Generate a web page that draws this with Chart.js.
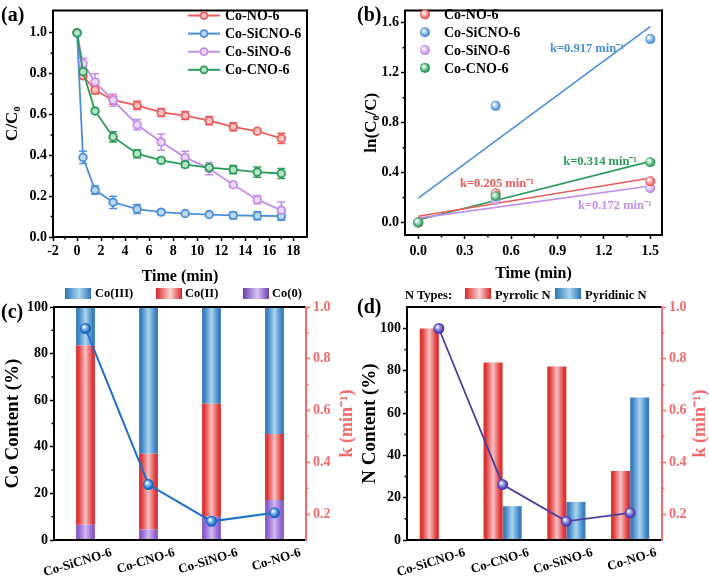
<!DOCTYPE html>
<html>
<head>
<meta charset="utf-8">
<script src="https://cdn.jsdelivr.net/npm/chart.js@4.4.1/dist/chart.umd.min.js"></script>
<style>
  body { margin: 0; background: #fff; width: 709px; height: 583px; position: relative; overflow: hidden;
         font-family: "Liberation Serif", "Times New Roman", serif; font-weight: bold; }
  canvas { position: absolute; }
  .plabel { position: absolute; font-size: 20px; font-weight: bold; line-height: 1; }
  .leg { position: absolute; font-size: 12.5px; font-weight: bold; line-height: 1; white-space: nowrap; }
  .sw { position: absolute; width: 26px; height: 11px; }
</style>
</head>
<body>
<canvas id="ca" width="355" height="286" style="left:0;top:0"></canvas>
<canvas id="cb" width="354" height="286" style="left:355px;top:0"></canvas>
<canvas id="cc" width="358" height="297" style="left:0;top:286px"></canvas>
<canvas id="cd" width="354" height="297" style="left:355px;top:286px"></canvas>

<div class="plabel" style="left:1px;top:4px">(a)</div>
<div class="plabel" style="left:357px;top:4px">(b)</div>
<div class="plabel" style="left:1px;top:301px">(c)</div>
<div class="plabel" style="left:357px;top:296px">(d)</div>

<!-- legend (c) -->
<div class="sw" style="left:65px;top:288px;background:linear-gradient(to right,#2f74b5,#a9d6f3 55%,#2f74b5)"></div>
<div class="leg" style="left:95px;top:287px">Co(III)</div>
<div class="sw" style="left:156px;top:288px;background:linear-gradient(to right,#d9262b,#fbd3d3 55%,#d9262b)"></div>
<div class="leg" style="left:185px;top:287px">Co(II)</div>
<div class="sw" style="left:243px;top:288px;background:linear-gradient(to right,#6b3eae,#d9c6f5 55%,#6b3eae)"></div>
<div class="leg" style="left:272px;top:287px">Co(0)</div>
<!-- legend (d) -->
<div class="leg" style="left:405px;top:289px">N Types:</div>
<div class="sw" style="left:465px;top:288px;background:linear-gradient(to right,#d9262b,#fbd3d3 55%,#d9262b)"></div>
<div class="leg" style="left:495px;top:289px">Pyrrolic N</div>
<div class="sw" style="left:555px;top:288px;background:linear-gradient(to right,#2f74b5,#a9d6f3 55%,#2f74b5)"></div>
<div class="leg" style="left:585px;top:289px">Pyridinic N</div>

<script>
// ---- data (a) ----
const seriesNames = ['Co-NO-6', 'Co-SiCNO-6', 'Co-SiNO-6', 'Co-CNO-6'];
const times = [0, 0.5, 1.5, 3, 5, 7, 9, 11, 13, 15, 17];
const noVals     = [1.0, 0.79, 0.72, 0.67, 0.645, 0.61, 0.595, 0.57, 0.54, 0.518, 0.483];
const sicnoVals  = [1.0, 0.39, 0.23, 0.17, 0.137, 0.122, 0.115, 0.11, 0.106, 0.104, 0.102];
const sinoVals   = [1.0, 0.85, 0.76, 0.67, 0.55, 0.465, 0.39, 0.335, 0.256, 0.183, 0.132];
const cnoVals    = [1.0, 0.81, 0.617, 0.49, 0.408, 0.375, 0.355, 0.34, 0.33, 0.318, 0.311];
const noErr      = [0, 0.015, 0.02, 0.02, 0.02, 0.02, 0.02, 0.02, 0.02, 0.01, 0.025];
const sicnoErr   = [0, 0.03, 0.02, 0.03, 0.022, 0.012, 0.008, 0.008, 0.016, 0.02, 0.02];
const sinoErr    = [0, 0.025, 0.04, 0.03, 0.025, 0.04, 0.03, 0.03, 0.012, 0.02, 0.04];
const cnoErr     = [0, 0.025, 0.01, 0.025, 0.02, 0.012, 0.015, 0.015, 0.02, 0.025, 0.025];
const aXTicks = [-2, 0, 2, 4, 6, 8, 10, 12, 14, 16, 18];
const aXMinor = [-1, 1, 3, 5, 7, 9, 11, 13, 15, 17];
const aYTicks = [0, 0.2, 0.4, 0.6, 0.8, 1.0];
const aYMinor = [0.1, 0.3, 0.5, 0.7, 0.9];

// ---- data (b) ----
const fitTimes = [0, 0.5, 1.5];
const noLn    = [0, 0.235, 0.33];
const sicnoLn = [0, 0.935, 1.47];
const sinoLn  = [0, 0.18, 0.275];
const cnoLn   = [0, 0.21, 0.483];
const fitEnds = [0, 1.5];
const noFit    = [0.05, 0.357];
const sicnoFit = [0.195, 1.57];
const sinoFit  = [0.035, 0.293];
const cnoFit   = [0.02, 0.49];
const kTexts = ['k=0.205 min\u207B\u00B9', 'k=0.917 min\u207B\u00B9', 'k=0.172 min\u207B\u00B9', 'k=0.314 min\u207B\u00B9'];
const bXTicks = [0, 0.3, 0.6, 0.9, 1.2, 1.5];
const bXMinor = [0.15, 0.45, 0.75, 1.05, 1.35];
const bYTicks = [0, 0.4, 0.8, 1.2, 1.6];
const bYMinor = [0.2, 0.6, 1.0, 1.4];

// ---- data (c), (d) ----
const samples = ['Co-SiCNO-6', 'Co-CNO-6', 'Co-SiNO-6', 'Co-NO-6'];
const kVals = [0.917, 0.314, 0.172, 0.205];
const co0 = [6.5, 4.5, 10, 17.2];
const co2 = [77, 32.5, 48.5, 28.3];
const co3 = [16.5, 63, 41.5, 54.5];
const pyrrolic = [100, 84, 82, 32.6];
const pyridinic = [0, 16, 18, 67.4];
const cYTicks = [0, 20, 40, 60, 80, 100];
const cYMinor = [10, 30, 50, 70, 90];
const dYTicks = [0, 20, 40, 60, 80, 100];
const dYMinor = [10, 30, 50, 70, 90];
const kTicks = [0.2, 0.4, 0.6, 0.8, 1.0];
const kMinor = [0.3, 0.5, 0.7, 0.9];

const RED = '#ee5b5b', BLUE = '#4a8fdb', PURPLE = '#c28fec', GREEN = '#2b9c5a';
const colors = [RED, BLUE, PURPLE, GREEN];
const lights = ['#fbc4c2', '#bcd8f6', '#ecd7fb', '#b6e2c6'];
const KRED = '#f26a6a';

Chart.defaults.font.family = '"Liberation Serif", "Times New Roman", serif';
Chart.defaults.font.weight = 'bold';
Chart.defaults.font.size = 14;
Chart.defaults.color = '#000';
Chart.defaults.animation = false;
Chart.defaults.events = [];
Chart.defaults.plugins.legend.display = false;
Chart.defaults.plugins.tooltip.enabled = false;

// ---- helpers ----
function sphere(base, light, yId) {
  return ctx => {
    if (ctx.type !== 'data') return base;
    const chart = ctx.chart, x = chart.scales.x, y = chart.scales[yId];
    if (!x || !y) return base;
    const r = ctx.raw;
    const px = typeof r === 'object' ? x.getPixelForValue(r.x) : x.getPixelForValue(ctx.dataIndex);
    const py = y.getPixelForValue(typeof r === 'object' ? r.y : r);
    if (!isFinite(px) || !isFinite(py)) return base;
    const g = chart.ctx.createRadialGradient(px - 1.6, py - 1.8, 0.3, px, py, 6);
    g.addColorStop(0, '#ffffff');
    g.addColorStop(0.3, light);
    g.addColorStop(0.75, base);
    g.addColorStop(1, base);
    return g;
  };
}

function barFill(edge, mid, frac, shift) {
  return ctx => {
    if (ctx.type !== 'data') return edge;
    const chart = ctx.chart, x = chart.scales.x;
    if (!x) return edge;
    const catW = (x.right - x.left) / chart.data.labels.length;
    const w = catW * frac;
    const cx = x.getPixelForValue(ctx.dataIndex) + shift * catW;
    if (!isFinite(cx) || !isFinite(w) || w <= 0) return edge;
    const g = chart.ctx.createLinearGradient(cx - w / 2, 0, cx + w / 2, 0);
    g.addColorStop(0, edge);
    g.addColorStop(0.12, edge);
    g.addColorStop(0.5, mid);
    g.addColorStop(0.88, edge);
    g.addColorStop(1, edge);
    return g;
  };
}

const frame = {
  id: 'frame',
  afterDatasetsDraw(chart, args, o) {
    const { left, right, top, bottom } = chart.chartArea;
    const ctx = chart.ctx;
    ctx.save();
    ctx.lineWidth = 2;
    const seg = (c, x1, y1, x2, y2) => {
      ctx.strokeStyle = c; ctx.beginPath(); ctx.moveTo(x1, y1); ctx.lineTo(x2, y2); ctx.stroke();
    };
    seg('#000', left - 1, top, right + 1, top);
    seg('#000', left - 1, bottom, right + 1, bottom);
    seg('#000', left, top, left, bottom);
    seg(o.right || '#000', right, top - 1, right, bottom + 1);
    ctx.restore();
  }
};

const minorTicks = {
  id: 'minorTicks',
  afterDraw(chart, args, o) {
    const ctx = chart.ctx;
    (o.axes || []).forEach(a => {
      const s = chart.scales[a.id];
      ctx.save();
      ctx.strokeStyle = a.color || '#000';
      ctx.lineWidth = 1.5;
      ctx.beginPath();
      a.values.forEach(v => {
        const p = s.getPixelForValue(v);
        if (s.isHorizontal()) { ctx.moveTo(p, s.top); ctx.lineTo(p, s.top + 2.5); }
        else if (s.position === 'left') { ctx.moveTo(s.right, p); ctx.lineTo(s.right - 2.5, p); }
        else { ctx.moveTo(s.left, p); ctx.lineTo(s.left + 2.5, p); }
      });
      ctx.stroke();
      ctx.restore();
    });
  }
};

const errorBars = {
  id: 'errorBars',
  beforeDatasetsDraw(chart) {
    const { ctx, scales: { x, y } } = chart;
    chart.data.datasets.forEach(ds => {
      if (!ds.errors) return;
      ctx.save();
      ctx.strokeStyle = ds.borderColor;
      ctx.lineWidth = 1.5;
      ctx.beginPath();
      ds.data.forEach((p, j) => {
        const e = ds.errors[j];
        if (!e) return;
        const px = x.getPixelForValue(p.x);
        const t = y.getPixelForValue(p.y + e), b = y.getPixelForValue(p.y - e);
        ctx.moveTo(px, t); ctx.lineTo(px, b);
        ctx.moveTo(px - 4, t); ctx.lineTo(px + 4, t);
        ctx.moveTo(px - 4, b); ctx.lineTo(px + 4, b);
      });
      ctx.stroke();
      ctx.restore();
    });
  }
};

const inLegend = {
  id: 'inLegend',
  afterDraw(chart, args, o) {
    const ctx = chart.ctx;
    ctx.save();
    ctx.font = 'bold 14px "Liberation Serif", serif';
    ctx.textBaseline = 'middle';
    ctx.fillStyle = '#000';
    seriesNames.forEach((name, i) => {
      const y = o.y + i * o.dy;
      if (o.line) {
        ctx.strokeStyle = colors[i]; ctx.lineWidth = 2;
        ctx.beginPath(); ctx.moveTo(o.x - 16, y); ctx.lineTo(o.x + 16, y); ctx.stroke();
        ctx.beginPath(); ctx.arc(o.x, y, 3.5, 0, Math.PI * 2);
        ctx.fillStyle = lights[i]; ctx.fill(); ctx.lineWidth = 1.8; ctx.stroke();
      } else {
        const g = ctx.createRadialGradient(o.x - 1.5, y - 1.8, 0.3, o.x, y, 5.5);
        g.addColorStop(0, '#fff'); g.addColorStop(0.3, lights[i]); g.addColorStop(0.75, colors[i]); g.addColorStop(1, colors[i]);
        ctx.beginPath(); ctx.arc(o.x, y, 5, 0, Math.PI * 2); ctx.fillStyle = g; ctx.fill();
      }
      ctx.fillStyle = '#000';
      ctx.fillText(name, o.tx, y + 1);
    });
    ctx.restore();
  }
};

const kLabels = {
  id: 'kLabels',
  afterDatasetsDraw(chart, args, o) {
    const ctx = chart.ctx, x = chart.scales.x, y = chart.scales.y;
    ctx.save();
    ctx.font = 'bold 12.5px "Liberation Serif", serif';
    ctx.textBaseline = 'middle';
    o.items.forEach(it => {
      ctx.fillStyle = it.color;
      ctx.fillText(it.text, x.getPixelForValue(it.x), y.getPixelForValue(it.y));
    });
    ctx.restore();
  }
};

const rightTitle = {
  id: 'rightTitle',
  afterDraw(chart, args, o) {
    const ctx = chart.ctx, ca = chart.chartArea;
    ctx.save();
    ctx.translate(ca.right + o.offset, (ca.top + ca.bottom) / 2);
    ctx.rotate(-Math.PI / 2);
    ctx.font = 'bold 18px "Liberation Serif", serif';
    ctx.fillStyle = o.color;
    ctx.textAlign = 'center';
    ctx.textBaseline = 'middle';
    ctx.fillText(o.text, 0, 0);
    ctx.restore();
  }
};

function setTicks(list) { return s => { s.ticks = list.map(v => ({ value: v })); }; }
const tickGrid = c => ({ drawOnChartArea: false, tickLength: 4, tickColor: c, tickWidth: 1.5 });

// ---- (a) ----
const aSeries = [noVals, sicnoVals, sinoVals, cnoVals];
const aErrs = [noErr, sicnoErr, sinoErr, cnoErr];
new Chart(document.getElementById('ca'), {
  type: 'line',
  data: {
    datasets: aSeries.map((vals, i) => ({
      label: seriesNames[i],
      data: times.map((t, j) => ({ x: t, y: vals[j] })),
      errors: aErrs[i],
      borderColor: colors[i],
      borderWidth: 1.8,
      pointRadius: 3.8,
      pointBorderWidth: 1.8,
      pointBackgroundColor: lights[i],
      pointBorderColor: colors[i],
      tension: 0
    })).reverse()
  },
  options: {
    responsive: false,
    layout: { padding: { left: 0, top: 1, right: 48, bottom: 0 } },
    scales: {
      x: {
        type: 'linear', min: -2, max: 19.14,
        afterBuildTicks: setTicks(aXTicks),
        afterFit: s => { s.height = 49; },
        ticks: { padding: 2, callback: v => v },
        grid: tickGrid('#000'), border: { display: false },
        title: { display: true, text: 'Time (min)', font: { size: 16 }, padding: 0 }
      },
      y: {
        min: 0, max: 1.11,
        afterBuildTicks: setTicks(aYTicks),
        afterFit: s => { s.width = 53; },
        ticks: { padding: 2, callback: v => v.toFixed(1) },
        grid: tickGrid('#000'), border: { display: false },
        title: { display: true, text: 'C/C\u2080', font: { size: 17 }, padding: 2 }
      }
    },
    plugins: {
      inLegend: { x: 204, tx: 225, y: 15.5, dy: 18.1, line: true },
      minorTicks: { axes: [{ id: 'x', values: aXMinor }, { id: 'y', values: aYMinor }] }
    }
  },
  plugins: [errorBars, frame, minorTicks, inLegend]
});

// ---- (b) ----
const bPts = [noLn, sicnoLn, sinoLn, cnoLn];
const bFits = [noFit, sicnoFit, sinoFit, cnoFit];
const bOrder = [2, 3, 4, 0];
const bDatasets = [];
bPts.forEach((vals, i) => {
  bDatasets.push({
    type: 'scatter',
    label: seriesNames[i],
    data: fitTimes.map((t, j) => ({ x: t, y: vals[j] })),
    pointRadius: 5,
    pointBorderWidth: 0,
    pointBackgroundColor: sphere(colors[i], lights[i], 'y'),
    order: bOrder[i]
  });
  bDatasets.push({
    type: 'line',
    label: seriesNames[i] + ' fit',
    data: fitEnds.map((t, j) => ({ x: t, y: bFits[i][j] })),
    borderColor: colors[i],
    borderWidth: 1.6,
    pointRadius: 0,
    order: 10 + i
  });
});
new Chart(document.getElementById('cb'), {
  type: 'scatter',
  data: { datasets: bDatasets },
  options: {
    responsive: false,
    layout: { padding: { left: 0, top: 2, right: 47, bottom: 0 } },
    scales: {
      x: {
        type: 'linear', min: -0.086, max: 1.576,
        afterBuildTicks: setTicks(bXTicks),
        afterFit: s => { s.height = 51; },
        ticks: { padding: 4, callback: v => v.toFixed(1) },
        grid: tickGrid('#000'), border: { display: false },
        title: { display: true, text: 'Time (min)', font: { size: 16 }, padding: 3 }
      },
      y: {
        min: -0.1, max: 1.7,
        afterBuildTicks: setTicks(bYTicks),
        afterFit: s => { s.width = 50; },
        ticks: { padding: 2, callback: v => v.toFixed(1) },
        grid: tickGrid('#000'), border: { display: false },
        title: { display: true, text: 'ln(C\u2080/C)', font: { size: 17 }, padding: 6 }
      }
    },
    plugins: {
      inLegend: { x: 70, tx: 89, y: 14.5, dy: 17.8, line: false },
      minorTicks: { axes: [{ id: 'x', values: bXMinor }, { id: 'y', values: bYMinor }] },
      kLabels: {
        items: [
          { text: kTexts[0], color: RED, x: 0.27, y: 0.312 },
          { text: kTexts[1], color: BLUE, x: 0.852, y: 1.389 },
          { text: kTexts[2], color: PURPLE, x: 1.032, y: 0.138 },
          { text: kTexts[3], color: GREEN, x: 0.937, y: 0.485 }
        ]
      }
    }
  },
  plugins: [frame, minorTicks, inLegend, kLabels]
});

// ---- (c) ----
const catXTicks = {
  padding: -3, minRotation: 17, maxRotation: 17, labelOffset: 26, autoSkip: false, font: { size: 13 }
};
new Chart(document.getElementById('cc'), {
  type: 'bar',
  data: {
    labels: samples,
    datasets: [
      { type: 'line', label: 'k', data: kVals, yAxisID: 'y2', borderColor: '#1c6fcf', borderWidth: 2,
        pointRadius: 5.5, pointBorderWidth: 0, pointBackgroundColor: sphere('#1a66c4', '#8fc2f2', 'y2'), order: 0 },
      { label: 'Co(0)', data: co0, backgroundColor: barFill('#8a5ccc', '#d2b8f3', 0.3, 0), order: 1 },
      { label: 'Co(II)', data: co2, backgroundColor: barFill('#df3434', '#f9c0c0', 0.3, 0), order: 2 },
      { label: 'Co(III)', data: co3, backgroundColor: barFill('#3a7fc0', '#a9d5f2', 0.3, 0), order: 3 }
    ]
  },
  options: {
    responsive: false,
    categoryPercentage: 0.3,
    barPercentage: 1.0,
    layout: { padding: { left: 0, top: 21, right: 0, bottom: 0 } },
    scales: {
      x: { stacked: true, afterFit: s => { s.height = 43; }, ticks: catXTicks, grid: { display: false }, border: { display: false } },
      y: {
        stacked: true, min: 0, max: 100,
        afterBuildTicks: setTicks(cYTicks),
        afterFit: s => { s.width = 54; },
        ticks: { padding: 2 },
        grid: tickGrid('#000'), border: { display: false },
        title: { display: true, text: 'Co Content (%)', font: { size: 19 }, padding: 2 }
      },
      y2: {
        position: 'right', min: 0.1, max: 1.0,
        afterBuildTicks: setTicks(kTicks),
        afterFit: s => { s.width = 52; },
        ticks: { padding: 3, color: KRED, callback: v => v.toFixed(1) },
        grid: tickGrid(KRED), border: { display: false }
      }
    },
    plugins: {
      frame: { right: KRED },
      rightTitle: { text: 'k (min\u207B\u00B9)', color: KRED, offset: 41 },
      minorTicks: { axes: [{ id: 'y', values: cYMinor }, { id: 'y2', values: kMinor, color: KRED }] }
    }
  },
  plugins: [frame, minorTicks, rightTitle]
});

// ---- (d) ----
new Chart(document.getElementById('cd'), {
  type: 'bar',
  data: {
    labels: samples,
    datasets: [
      { type: 'line', label: 'k', data: kVals, yAxisID: 'y2', borderColor: '#4a3f9e', borderWidth: 1.8,
        pointRadius: 5.5, pointBorderWidth: 0, pointBackgroundColor: sphere('#4b3fae', '#a9a2ec', 'y2'), order: 0 },
      { label: 'Pyrrolic N', data: pyrrolic, backgroundColor: barFill('#df3434', '#f9c0c0', 0.3, -0.15), order: 1 },
      { label: 'Pyridinic N', data: pyridinic, backgroundColor: barFill('#3a7fc0', '#a9d5f2', 0.3, 0.15), order: 2 }
    ]
  },
  options: {
    responsive: false,
    categoryPercentage: 0.6,
    barPercentage: 1.0,
    layout: { padding: { left: 0, top: 21, right: 0, bottom: 0 } },
    scales: {
      x: { afterFit: s => { s.height = 43; }, ticks: catXTicks, grid: { display: false }, border: { display: false } },
      y: {
        min: 0, max: 110.2,
        afterBuildTicks: setTicks(dYTicks),
        afterFit: s => { s.width = 52; },
        ticks: { padding: 2 },
        grid: tickGrid('#000'), border: { display: false },
        title: { display: true, text: 'N Content (%)', font: { size: 19 }, padding: 4 }
      },
      y2: {
        position: 'right', min: 0.1, max: 1.0,
        afterBuildTicks: setTicks(kTicks),
        afterFit: s => { s.width = 47; },
        ticks: { padding: 3, color: KRED, callback: v => v.toFixed(1) },
        grid: tickGrid(KRED), border: { display: false }
      }
    },
    plugins: {
      frame: { right: KRED },
      rightTitle: { text: 'k (min\u207B\u00B9)', color: KRED, offset: 38 },
      minorTicks: { axes: [{ id: 'y', values: dYMinor }, { id: 'y2', values: kMinor, color: KRED }] }
    }
  },
  plugins: [frame, minorTicks, rightTitle]
});
</script>
</body>
</html>
